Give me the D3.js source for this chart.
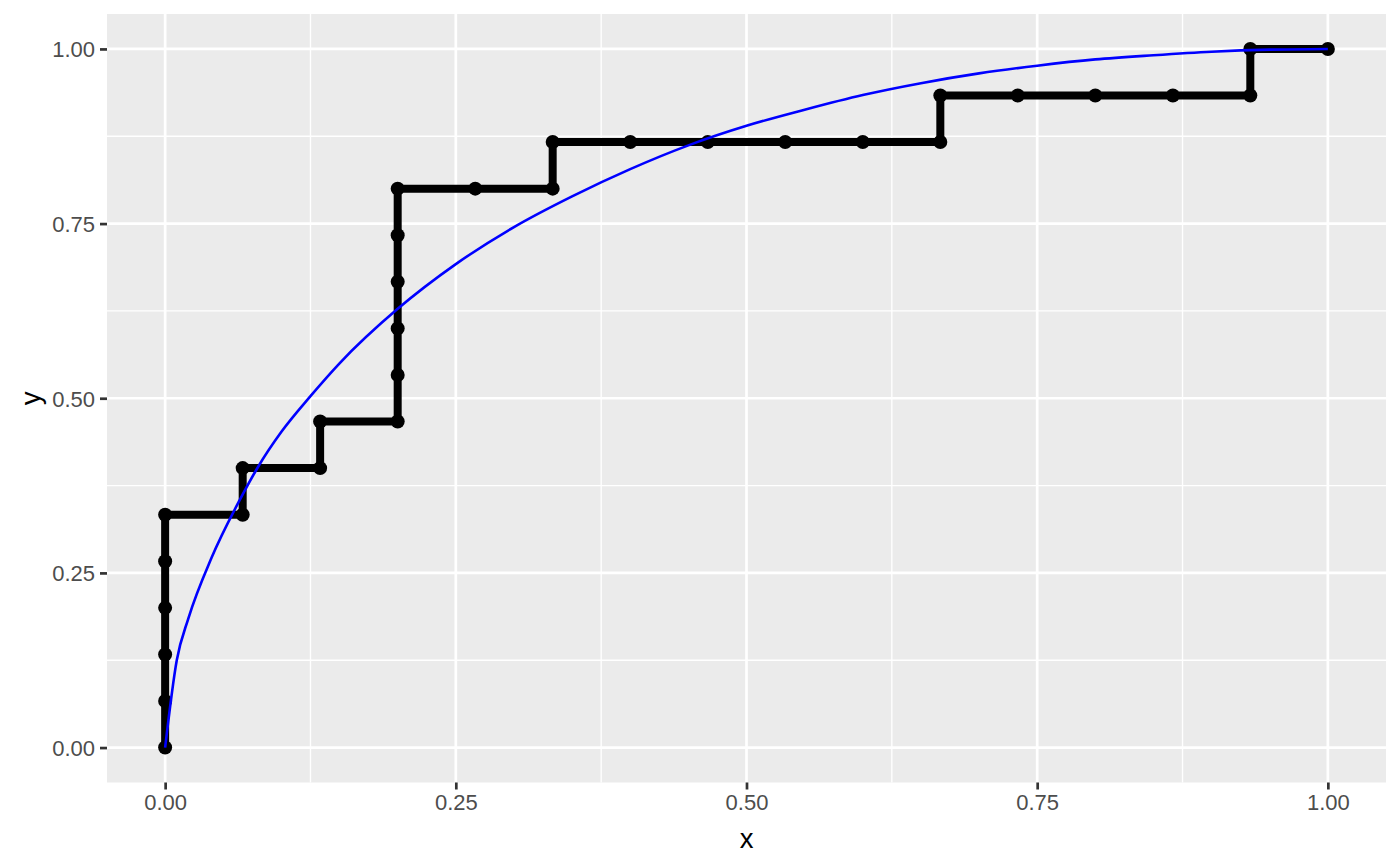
<!DOCTYPE html>
<html><head><meta charset="utf-8">
<script src="https://cdn.jsdelivr.net/npm/d3@7"></script>
<style>body{margin:0;background:#fff}svg{display:block}text{font-family:"Liberation Sans",Arial,sans-serif}</style>
</head><body>
<svg id="chart" width="1400" height="866"></svg>
<script>
// Empirical step curve (x = FPR, y = TPR)
const stepX = [0,0,0,0,0,0,0.0667,0.0667,0.1333,0.1333,0.2,0.2,0.2,0.2,0.2,0.2,0.2667,0.3333,0.3333,0.4,0.4667,0.5333,0.6,0.6667,0.6667,0.7333,0.8,0.8667,0.9333,0.9333,1];
const stepY = [0,0.0667,0.1333,0.2,0.2667,0.3333,0.3333,0.4,0.4,0.4667,0.4667,0.5333,0.6,0.6667,0.7333,0.8,0.8,0.8,0.8667,0.8667,0.8667,0.8667,0.8667,0.8667,0.9333,0.9333,0.9333,0.9333,0.9333,1,1];
// Smooth blue curve
const curveX = [0,0.01,0.02,0.04,0.065,0.08,0.1,0.125,0.15,0.2,0.25,0.3,0.35,0.4,0.45,0.5,0.55,0.6,0.65,0.7,0.75,0.8,0.85,0.9,0.95,1];
const curveY = [0,0.125,0.185,0.272,0.357,0.402,0.452,0.503,0.550,0.628,0.692,0.745,0.789,0.828,0.862,0.890,0.913,0.934,0.951,0.965,0.976,0.985,0.991,0.996,0.999,1];
const xTicks = [0,0.25,0.5,0.75,1];
const yTicks = [0,0.25,0.5,0.75,1];
const xMinor = [0.125,0.375,0.625,0.875];
const yMinor = [0.125,0.375,0.625,0.875];

const svg = d3.select("#chart");
const L = 107, R = 1386, T = 14, B = 782.5;
const x = d3.scaleLinear().domain([-0.05,1.05]).range([L,R]);
const y = d3.scaleLinear().domain([-0.05,1.05]).range([B,T]);

svg.append("rect").attr("x",L).attr("y",T).attr("width",R-L).attr("height",B-T).attr("fill","#EBEBEB");

const g = svg.append("g");
g.selectAll(".xmin").data(xMinor).join("line").attr("x1",d=>x(d)).attr("x2",d=>x(d)).attr("y1",T).attr("y2",B).attr("stroke","#fff").attr("stroke-width",1.35);
g.selectAll(".ymin").data(yMinor).join("line").attr("y1",d=>y(d)).attr("y2",d=>y(d)).attr("x1",L).attr("x2",R).attr("stroke","#fff").attr("stroke-width",1.35);
g.selectAll(".xmaj").data(xTicks).join("line").attr("x1",d=>x(d)).attr("x2",d=>x(d)).attr("y1",T).attr("y2",B).attr("stroke","#fff").attr("stroke-width",2.7);
g.selectAll(".ymaj").data(yTicks).join("line").attr("y1",d=>y(d)).attr("y2",d=>y(d)).attr("x1",L).attr("x2",R).attr("stroke","#fff").attr("stroke-width",2.7);

// axes
const fmt = d3.format(".2f");
const xAxis = svg.append("g").attr("transform",`translate(0,${B})`)
  .call(d3.axisBottom(x).tickValues(xTicks).tickFormat(fmt).tickSize(7).tickPadding(5));
const yAxis = svg.append("g").attr("transform",`translate(${L},0)`)
  .call(d3.axisLeft(y).tickValues(yTicks).tickFormat(fmt).tickSize(7).tickPadding(5));
[xAxis,yAxis].forEach(a=>{
  a.select(".domain").remove();
  a.selectAll(".tick line").attr("stroke","#333333").attr("stroke-width",2.7);
  a.selectAll(".tick text").attr("fill","#4D4D4D").style("font-size","22px").style("font-family","'Liberation Sans',Arial,sans-serif");
});
xAxis.selectAll(".tick text").attr("dy","0.71em");
yAxis.selectAll(".tick text").attr("dy","0.36em");

svg.append("text").attr("x",(L+R)/2).attr("y",848).attr("text-anchor","middle").style("font-size","27.5px").attr("fill","#000").text("x");
svg.append("text").attr("transform",`translate(40,${(T+B)/2}) rotate(-90)`).attr("text-anchor","middle").style("font-size","27.5px").attr("fill","#000").text("y");

// step path
const pts = stepX.map((v,i)=>[v,stepY[i]]);
const line = d3.line().x(d=>x(d[0])).y(d=>y(d[1]));
svg.append("path").datum(pts).attr("d",line).attr("fill","none").attr("stroke","#000").attr("stroke-width",8).attr("stroke-linejoin","round");
svg.selectAll(".pt").data(pts).join("circle").attr("cx",d=>x(d[0])).attr("cy",d=>y(d[1])).attr("r",7).attr("fill","#000");

// blue curve
const cpts = curveX.map((v,i)=>[v,curveY[i]]);
svg.append("path").datum(cpts).attr("d",d3.line().x(d=>x(d[0])).y(d=>y(d[1])).curve(d3.curveMonotoneX))
  .attr("fill","none").attr("stroke","#0000FF").attr("stroke-width",2.6);
</script>
</body></html>
